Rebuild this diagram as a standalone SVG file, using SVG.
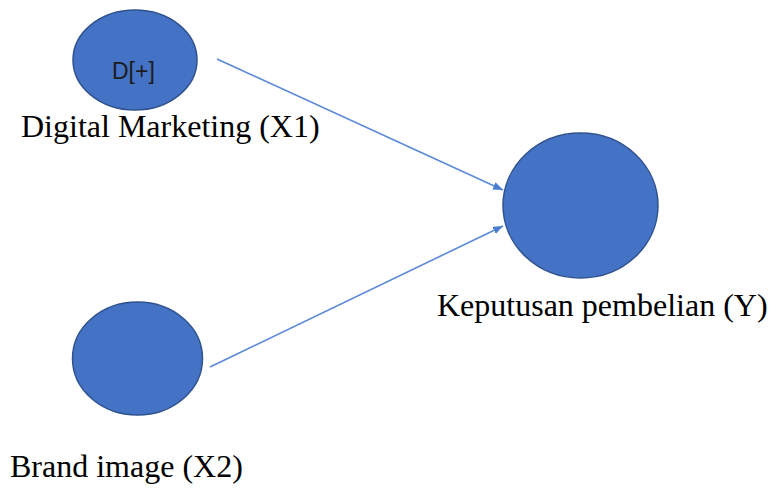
<svg xmlns="http://www.w3.org/2000/svg" width="776" height="490" viewBox="0 0 776 490">
<style>
.node{fill:#4472c4;stroke:#2f528f;stroke-width:1.5}
.lbl{font-family:"Liberation Serif","Times New Roman",serif;font-size:32px;fill:#000}
.icon{font-family:"Liberation Sans",Arial,sans-serif;font-size:23px;fill:#1c1c1c}
.conn{stroke:#5a8ad6;stroke-width:1.6;fill:none}
</style>
<defs>
<marker id="ah" viewBox="0 0 10 8" refX="10" refY="4" markerWidth="10" markerHeight="8" markerUnits="userSpaceOnUse" orient="auto">
<path d="M0,0 L10,4 L0,8 Z" fill="#4a7cd0"/>
</marker>
</defs>
<rect width="776" height="490" fill="#fff"/>
<g id="connectors">
<line class="conn" x1="217" y1="59" x2="503" y2="190" marker-end="url(#ah)"/>
<line class="conn" x1="210" y1="367" x2="503" y2="226" marker-end="url(#ah)"/>
</g>
<g id="x1">
<ellipse class="node" cx="135" cy="60" rx="62" ry="50"/>
<text class="icon" x="112" y="79">D[+]</text>
<text class="lbl" x="21" y="137">Digital Marketing (X1)</text>
</g>
<g id="x2">
<ellipse class="node" cx="137.5" cy="358.5" rx="65" ry="56.5"/>
<text class="lbl" x="10" y="477">Brand image (X2)</text>
</g>
<g id="y">
<ellipse class="node" cx="580.5" cy="205.5" rx="77.5" ry="72.5"/>
<text class="lbl" x="437" y="316">Keputusan pembelian (Y)</text>
</g>
</svg>
